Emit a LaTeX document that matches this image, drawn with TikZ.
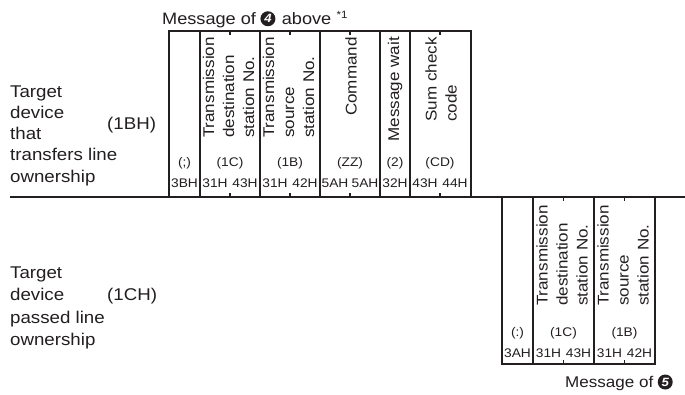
\documentclass[tikz,border=0pt]{standalone}
\usepackage{fontspec}
\setmainfont{Liberation Sans}[FakeStretch=1.1]
\definecolor{ink}{HTML}{231F20}
\begin{document}
\begin{tikzpicture}[x=1pt,y=-1pt,
  frame/.style={line width=1.6pt, draw=ink},
  tickmark/.style={line width=1.2pt, draw=ink},
  lbl/.style={inner sep=0, text=ink, font=\fontsize{17}{21}\selectfont, anchor=base west},
  ttl/.style={inner sep=0, text=ink, font=\fontsize{16.5}{20}\selectfont, anchor=base west},
  ttlb/.style={inner sep=0, text=ink, font=\fontsize{15.5}{20}\selectfont, anchor=base west},
  coltext/.style={inner sep=0, text=ink, font=\fontsize{15.5}{20}\selectfont, align=left, rotate=90, anchor=east},
  small/.style={inner sep=0, text=ink, font=\fontsize{12.5}{14}\selectfont},
  badge/.style={circle, fill=ink, text=white, inner sep=0, minimum size=15pt, font=\fontsize{12}{12}\selectfont\bfseries\itshape}]
\useasboundingbox (0,0) rectangle (685,394);
\fill[white] (0,0) rectangle (685,394);

% ---------- titles ----------
\node[ttl] (m4a) at (162,24) {Message of};
\node[badge, anchor=west, yshift=1pt] (b4) at ([xshift=4pt]m4a.east) {4};
\node[ttl] (m4b) at ([xshift=6pt]b4.east |- m4a.base) {above};
\node[small, anchor=base west, font=\fontsize{10.5}{12}\selectfont] (star) at ([xshift=5pt,yshift=6pt]m4b.base east) {*1};

\node[ttlb] (m5a) at (565,387) {Message of};
\node[badge, anchor=west, yshift=1pt] (b5) at ([xshift=4pt]m5a.east) {5};

% ---------- left labels ----------
\node[lbl] (t1) at (10,97.5) {Target};
\node[lbl] (t2) at (10,118) {device};
\node[lbl] (t3) at (10,139) {that};
\node[lbl] (t4) at (10,160.5) {transfers line};
\node[lbl] (t5) at (10,182) {ownership};
\node[lbl, anchor=west] (t6) at (107,125) {(1BH)};

\node[lbl] (p1) at (10,278) {Target};
\node[lbl] (p2) at (10,300.5) {device};
\node[lbl] (p3) at (10,323) {passed line};
\node[lbl] (p4) at (10,345.5) {ownership};
\node[lbl, anchor=west] (p5) at (107,296) {(1CH)};

% ---------- separator line ----------
\draw[frame] (10,197) -- (685,197);

% ---------- upper frame ----------
\draw[frame] (169,197) -- (169,31) -- (471,31) -- (471,197);
\foreach \x in {200,260,320,380,410} \draw[frame] (\x,31) -- (\x,197);
\foreach \x in {230,290,350,440} {
  \draw[tickmark] (\x,31) -- (\x,35);
  \draw[tickmark] (\x,197) -- (\x,193);
}
\node[coltext] (u1) at (228.5,37) {Transmission\\destination\\station No.};
\node[coltext] (u2) at (288.5,37) {Transmission\\source\\station No.};
\node[coltext] (u3) at (351,37) {Command};
\node[coltext] (u4) at (395,37) {Message wait};
\node[coltext] (u5) at (441,37) {Sum check\\code};

\node[small] (ua0) at (184.5,163) {(;)};
\node[small] (ua1) at (230,163) {(1C)};
\node[small] (ua2) at (290,163) {(1B)};
\node[small] (ua3) at (350,163) {(ZZ)};
\node[small] (ua4) at (395,163) {(2)};
\node[small] (ua5) at (440,163) {(CD)};

\node[small] (ub0) at (184.5,183) {3BH};
\node[small] (ub1) at (215,183) {31H};
\node[small] (ub2) at (245,183) {43H};
\node[small] (ub3) at (275,183) {31H};
\node[small] (ub4) at (305,183) {42H};
\node[small] (ub5) at (335,183) {5AH};
\node[small] (ub6) at (365,183) {5AH};
\node[small] (ub7) at (395,183) {32H};
\node[small] (ub8) at (425,183) {43H};
\node[small] (ub9) at (455,183) {44H};

% ---------- lower frame ----------
\draw[frame] (502,197) -- (502,364) -- (655,364) -- (655,197);
\foreach \x in {533,594} \draw[frame] (\x,197) -- (\x,364);
\foreach \x in {563.5,624.5} {
  \draw[tickmark] (\x,197) -- (\x,201);
  \draw[tickmark] (\x,364) -- (\x,360);
}
\node[coltext] (l1) at (562,205) {Transmission\\destination\\station No.};
\node[coltext] (l2) at (623,205) {Transmission\\source\\station No.};

\node[small] (la0) at (517.5,333) {(:)};
\node[small] (la1) at (563.5,333) {(1C)};
\node[small] (la2) at (624.5,333) {(1B)};

\node[small] (lb0) at (517.5,353) {3AH};
\node[small] (lb1) at (548.5,353) {31H};
\node[small] (lb2) at (578.5,353) {43H};
\node[small] (lb3) at (609.5,353) {31H};
\node[small] (lb4) at (639.5,353) {42H};
\end{tikzpicture}
\end{document}
